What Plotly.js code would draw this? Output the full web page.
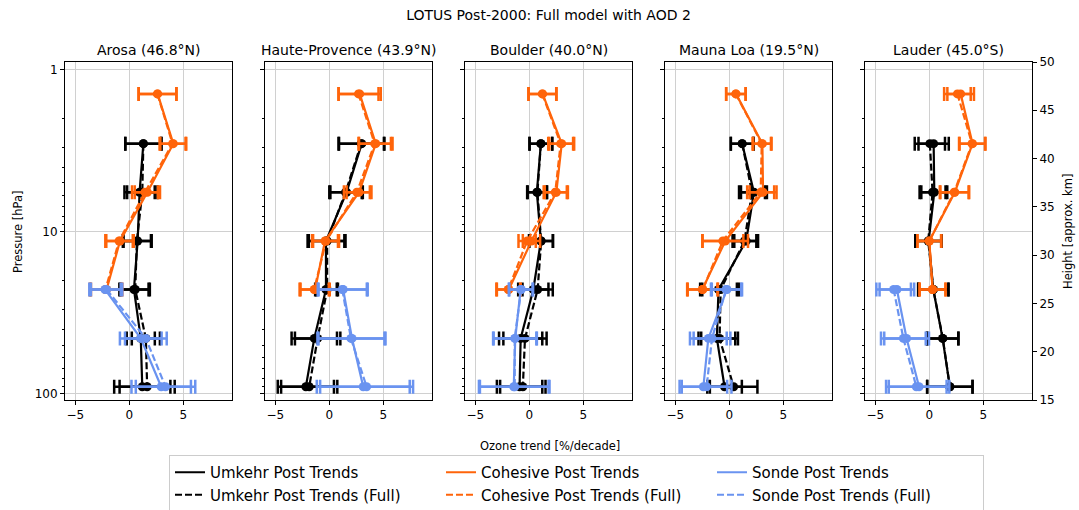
<!DOCTYPE html>
<html><head><meta charset="utf-8">
<script src="https://cdn.plot.ly/plotly-3.0.1.min.js"></script>
<style>html,body{margin:0;padding:0;background:#fff;} #chart{width:1079px;height:510px;}</style>
</head><body><div id="chart"></div>
<script>
const N = null;
const stations = ['Arosa (46.8°N)', 'Haute-Provence (43.9°N)', 'Boulder (40.0°N)', 'Mauna Loa (19.5°N)', 'Lauder (45.0°S)'];
const pressure = [1.41, 2.86, 5.7, 11.4, 22.7, 45.5, 90.4];
const xTicks = [-5, 0, 5];
const pTicks = [1, 10, 100];
const pMinor = [2, 3, 4, 5, 6, 7, 8, 9, 20, 30, 40, 50, 60, 70, 80, 90];
const heightTicks = [15, 20, 25, 30, 35, 40, 45, 50];

const umkehrTrend = [
  [N, 1.3, 0.95, 0.77, 0.43, 1.06, 1.2],
  [N, 3.0, 1.6, -0.31, -0.31, -1.39, -2.17],
  [N, 1.07, 0.7, 1.07, 0.37, -0.8, -0.9],
  [N, 1.19, 2.28, 1.56, -1.0, -1.15, -0.44],
  [N, 0.4, 0.46, -0.06, 0.37, 1.23, 1.9]];
const umkehrErr = [
  [N, 1.67, 1.4, 1.3, 1.35, 1.3, 2.6],
  [N, 2.1, 1.5, 1.7, 1.0, 2.1, 2.6],
  [N, 1.05, 0.9, 1.1, 1.4, 2.0, 2.1],
  [N, 1.05, 1.2, 1.1, 1.7, 1.7, 1.6],
  [N, 1.4, 1.2, 1.2, 1.4, 1.45, 2.1]];
const umkehrFullTrend = [
  [N, 1.3, 1.2, 0.7, 0.55, 1.53, 1.65],
  [N, 2.95, 1.5, -0.2, -0.2, -1.08, -1.86],
  [N, 1.07, 0.75, 1.1, 0.77, -0.4, -0.6],
  [N, 1.19, 2.1, 1.4, -0.8, -0.9, 0.4],
  [N, 0.05, 0.3, -0.1, 0.37, 1.25, 1.9]];
const umkehrFullErr = [
  [N, 1.67, 1.4, 1.3, 1.35, 1.3, 2.55],
  [N, 2.1, 1.5, 1.7, 1.0, 2.1, 2.6],
  [N, 1.05, 0.9, 1.1, 1.4, 2.0, 2.1],
  [N, 1.05, 1.2, 1.1, 1.7, 1.7, 2.2],
  [N, 1.4, 1.2, 1.2, 1.4, 1.45, 2.1]];

const cohesiveTrend = [
  [2.62, 4.07, 1.67, -0.86, -2.1, N, N],
  [2.81, 4.3, 2.75, -0.4, -1.31, N, N],
  [1.23, 3.0, 2.5, 0.2, -1.9, N, N],
  [0.62, 3.06, 3.12, -0.37, -2.5, N, N],
  [2.9, 4.0, 2.36, 0.0, 0.3, N, N]];
const cohesiveErr = [
  [1.75, 1.2, 1.17, 1.27, 1.45, N, N],
  [1.95, 1.55, 1.15, 1.2, 1.35, N, N],
  [1.29, 1.15, 1.07, 0.8, 1.1, N, N],
  [0.9, 0.85, 1.25, 2.1, 1.4, N, N],
  [1.23, 1.2, 1.33, 1.1, 1.2, N, N]];
const cohesiveFullTrend = [
  [2.6, 4.0, 1.45, -0.95, -2.2, N, N],
  [2.7, 4.2, 2.55, -0.3, -1.4, N, N],
  [1.2, 2.9, 2.4, -0.2, -1.95, N, N],
  [0.6, 3.0, 2.9, -0.6, -2.45, N, N],
  [2.6, 3.95, 2.3, 0.0, 0.3, N, N]];
const cohesiveFullErr = [
  [1.75, 1.2, 1.2, 1.27, 1.45, N, N],
  [1.85, 1.5, 1.2, 1.2, 1.35, N, N],
  [1.29, 1.15, 1.07, 0.8, 1.1, N, N],
  [0.9, 0.85, 1.25, 1.9, 1.4, N, N],
  [1.23, 1.2, 1.33, 1.1, 1.2, N, N]];

const sondeTrend = [
  [N, N, N, N, -2.25, 1.06, 2.95],
  [N, N, N, N, 1.28, 2.1, 3.14],
  [N, N, N, N, -0.8, -1.3, -1.44],
  [N, N, N, N, -0.22, -1.94, -2.4],
  [N, N, N, N, -3.0, -2.1, -0.95]];
const sondeErr = [
  [N, N, N, N, 1.45, 1.93, 2.75],
  [N, N, N, N, 2.27, 3.1, 4.3],
  [N, N, N, N, 1.1, 2.0, 3.22],
  [N, N, N, N, 1.4, 1.7, 2.2],
  [N, N, N, N, 1.6, 2.07, 2.8]];
const sondeFullTrend = [
  [N, N, N, N, -2.1, 1.53, 3.35],
  [N, N, N, N, 1.2, 2.0, 3.45],
  [N, N, N, N, -0.75, -1.35, -1.35],
  [N, N, N, N, -0.3, -1.6, -2.1],
  [N, N, N, N, -3.3, -2.4, -1.2]];
const sondeFullErr = [
  [N, N, N, N, 1.45, 1.93, 2.75],
  [N, N, N, N, 2.27, 3.1, 4.3],
  [N, N, N, N, 1.1, 2.0, 3.22],
  [N, N, N, N, 1.4, 1.7, 2.3],
  [N, N, N, N, 1.6, 2.07, 2.8]];

const legendNames = ['Umkehr Post Trends', 'Cohesive Post Trends', 'Sonde Post Trends',
  'Umkehr Post Trends (Full)', 'Cohesive Post Trends (Full)', 'Sonde Post Trends (Full)'];

// ---- styling / layout ----
const BLACK = '#000000', ORANGE = '#ff640a', BLUE = '#6a93f0';
const DASH = '7px,3px';
const FONT = 'DejaVu Sans, Liberation Sans, sans-serif';
const W = 1079, H = 510;
const mL = 65, mR = 47, mT = 62, mB = 110;
const gw = W - mL - mR, gh = H - mT - mB;
const panelLeft = [65, 265, 465, 665, 865], panelW = 167;
const px2x = p => (p - mL) / gw;
const px2y = p => (H - mB - p) / gh;

const series = [
  {v: umkehrTrend, e: umkehrErr, c: BLACK, d: 'solid'},
  {v: umkehrFullTrend, e: umkehrFullErr, c: BLACK, d: DASH},
  {v: cohesiveTrend, e: cohesiveErr, c: ORANGE, d: 'solid'},
  {v: cohesiveFullTrend, e: cohesiveFullErr, c: ORANGE, d: DASH},
  {v: sondeTrend, e: sondeErr, c: BLUE, d: 'solid'},
  {v: sondeFullTrend, e: sondeFullErr, c: BLUE, d: DASH}];

const traces = [];
stations.forEach((st, i) => {
  series.forEach(s => {
    traces.push({
      type: 'scatter', mode: 'lines+markers',
      x: s.v[i], y: pressure,
      xaxis: 'x' + (i + 1), yaxis: 'y' + (i + 1),
      line: {color: s.c, width: 2.2, dash: s.d},
      marker: {color: s.c, size: 9, symbol: 'circle'},
      error_x: {type: 'data', array: s.e[i], visible: true, color: s.c, thickness: 2.5, width: 7},
      showlegend: false, hoverinfo: 'x+y', cliponaxis: false
    });
  });
});
// height axis holder
traces.push({type: 'scatter', mode: 'lines', x: [N], y: [N], xaxis: 'x5', yaxis: 'y6', showlegend: false, hoverinfo: 'skip'});
// legend entries
const legendStyle = [[BLACK, 'solid'], [ORANGE, 'solid'], [BLUE, 'solid'], [BLACK, DASH], [ORANGE, DASH], [BLUE, DASH]];
legendNames.forEach((nm, k) => {
  traces.push({type: 'scatter', mode: 'lines', x: [N], y: [N], xaxis: 'x1', yaxis: 'y1', name: nm,
    line: {color: legendStyle[k][0], width: 2, dash: legendStyle[k][1]}, showlegend: true, hoverinfo: 'skip'});
});

const layout = {
  width: W, height: H,
  margin: {l: mL, r: mR, t: mT, b: mB, autoexpand: false},
  paper_bgcolor: '#ffffff', plot_bgcolor: '#ffffff',
  font: {family: FONT, color: '#000000', size: 12},
  title: {text: 'LOTUS Post-2000: Full model with AOD 2', x: 0.5, xref: 'paper', xanchor: 'center',
    y: (H - 15) / H, yref: 'container', yanchor: 'middle', font: {size: 14, family: FONT}},
  showlegend: true,
  legend: {orientation: 'h', x: px2x(169), xanchor: 'left', y: px2y(455), yanchor: 'top',
    bordercolor: '#cccccc', borderwidth: 1, bgcolor: '#ffffff', font: {size: 15, family: FONT},
    entrywidth: 226, entrywidthmode: 'pixels', traceorder: 'normal'},
  annotations: [],
  hovermode: 'closest'
};

stations.forEach((st, i) => {
  const n = i + 1;
  layout['xaxis' + n] = {
    domain: [px2x(panelLeft[i]), px2x(panelLeft[i] + panelW)], range: [-5.95, 9.5], anchor: 'y' + n,
    tickmode: 'array', tickvals: xTicks, ticktext: xTicks.map(v => v < 0 ? '\u2212' + Math.abs(v) : String(v)),
    ticks: 'outside', ticklen: 4, tickcolor: '#000', tickfont: {size: 12},
    showline: true, mirror: true, linecolor: '#000', linewidth: 1,
    showgrid: true, gridcolor: '#d0d0d0', gridwidth: 1, zeroline: false, fixedrange: true
  };
  layout['yaxis' + n] = {
    type: 'log', range: [2.038, -0.0475], domain: [0, 1], anchor: 'x' + n,
    tickmode: 'array', tickvals: pTicks, ticktext: pTicks.map(String), showticklabels: i === 0,
    ticks: 'outside', ticklen: 4, tickcolor: '#000', tickfont: {size: 12},
    minor: {tickmode: 'array', tickvals: pMinor, ticks: 'outside', ticklen: 2, tickcolor: '#000', showgrid: false},
    showline: true, mirror: true, linecolor: '#000', linewidth: 1,
    showgrid: true, gridcolor: '#d0d0d0', gridwidth: 1, zeroline: false, fixedrange: true
  };
  layout.annotations.push({text: st, xref: 'paper', yref: 'paper', showarrow: false,
    x: px2x(panelLeft[i] + panelW / 2), y: px2y(50), xanchor: 'center', yanchor: 'middle',
    font: {size: 14, family: FONT}});
});
layout.yaxis6 = {
  overlaying: 'y5', side: 'right', anchor: 'x5', range: [15, 50],
  tickmode: 'array', tickvals: heightTicks, ticktext: heightTicks.map(String),
  ticks: 'outside', ticklen: 4, tickcolor: '#000', tickfont: {size: 12},
  showline: true, linecolor: '#000', showgrid: false, zeroline: false, fixedrange: true
};
layout.annotations.push(
  {text: 'Pressure [hPa]', xref: 'paper', yref: 'paper', showarrow: false, x: px2x(18), y: px2y(232),
    textangle: -90, xanchor: 'center', yanchor: 'middle', font: {size: 11.5, family: FONT}},
  {text: 'Ozone trend [%/decade]', xref: 'paper', yref: 'paper', showarrow: false, x: px2x(550), y: px2y(446),
    xanchor: 'center', yanchor: 'middle', font: {size: 11.5, family: FONT}},
  {text: 'Height [approx. km]', xref: 'paper', yref: 'paper', showarrow: false, x: px2x(1068), y: px2y(232),
    textangle: -90, xanchor: 'center', yanchor: 'middle', font: {size: 11.5, family: FONT}}
);

Plotly.newPlot('chart', traces, layout, {displayModeBar: false, staticPlot: true});
</script>
</body></html>
